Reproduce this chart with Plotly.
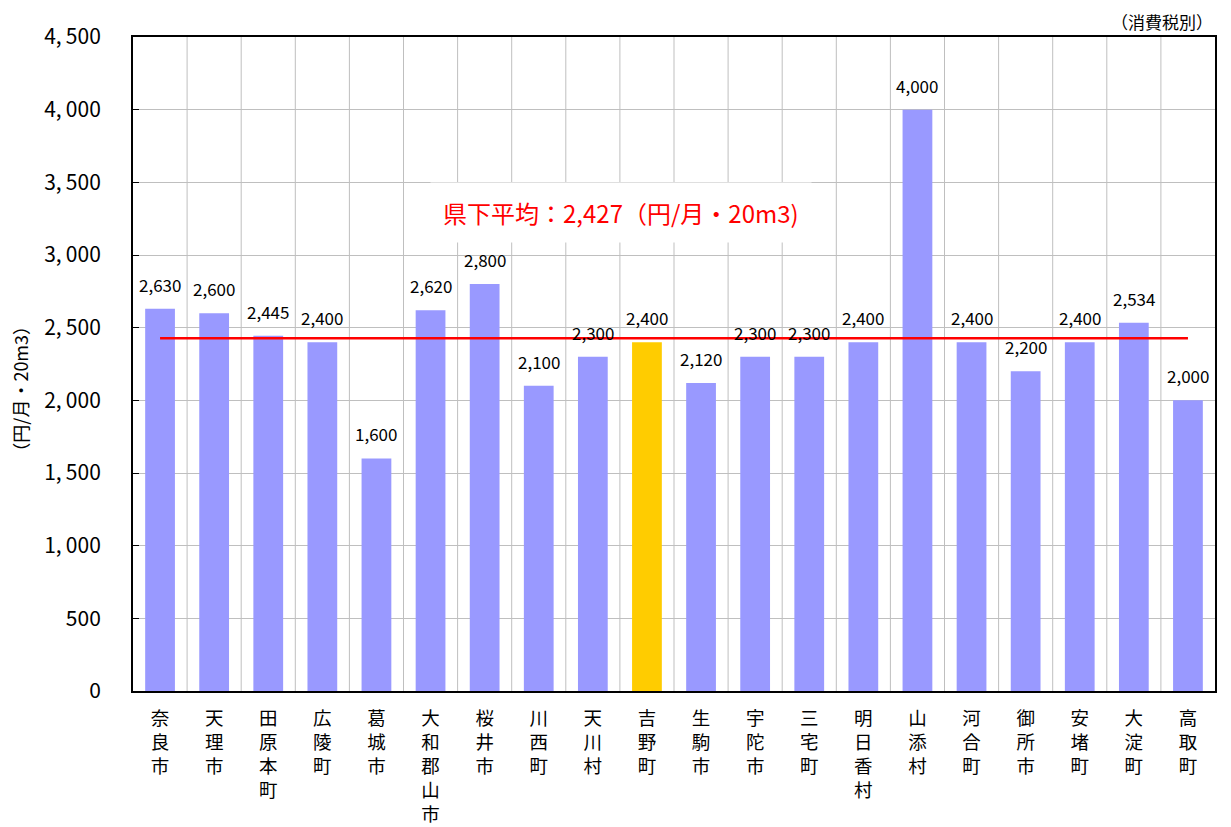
import plotly.graph_objects as go

categories = ["奈良市", "天理市", "田原本町", "広陵町", "葛城市", "大和郡山市", "桜井市", "川西町", "天川村", "吉野町",
              "生駒市", "宇陀市", "三宅町", "明日香村", "山添村", "河合町", "御所市", "安堵町", "大淀町", "高取町"]
values = [2630, 2600, 2445, 2400, 1600, 2620, 2800, 2100, 2300, 2400,
          2120, 2300, 2300, 2400, 4000, 2400, 2200, 2400, 2534, 2000]
highlight = "吉野町"
average = 2427
y_ticks = [0, 500, 1000, 1500, 2000, 2500, 3000, 3500, 4000, 4500]

FONT = "Noto Sans CJK JP, sans-serif"
labels = ["<br>".join(list(c)) for c in categories]
colors = ["#FFCC00" if c == highlight else "#9999FF" for c in categories]

fig = go.Figure()
fig.add_trace(go.Bar(
    x=labels, y=values, marker=dict(color=colors, line=dict(width=0)),
    width=0.55, showlegend=False, cliponaxis=False,
))
fig.add_trace(go.Scatter(
    x=labels, y=[average] * len(labels), mode="lines",
    line=dict(color="#FF0000", width=2.5), showlegend=False, hoverinfo="skip",
))

# value labels above bars
for lab, v in zip(labels, values):
    fig.add_annotation(
        x=lab, y=v, xref="x", yref="y", yanchor="bottom", yshift=10,
        text=f"{v:,}", showarrow=False,
        font=dict(family=FONT, size=17, color="black"),
    )

fig.add_annotation(
    x=0.451, y=3290, xref="paper", yref="y",
    text=f"県下平均：{average:,}（円/月・20m3)",
    showarrow=False, font=dict(family=FONT, size=24, color="#FF0000"),
    bgcolor="white", borderpad=12,
)
fig.add_annotation(
    x=1.0, y=1.0, xref="paper", yref="paper", xanchor="right", yanchor="bottom",
    text="（消費税別）", showarrow=False, yshift=1,
    font=dict(family=FONT, size=17, color="black"),
)
fig.add_annotation(
    x=-0.104, y=0.463, xref="paper", yref="paper", xanchor="center", yanchor="middle",
    text="（円/月・20m3）", showarrow=False, textangle=-90,
    font=dict(family=FONT, size=18, color="black"),
)

# figure sized to sit inside the page's default 8px body margin
fig.update_layout(
    width=1223, height=819,
    margin=dict(l=125, r=16, t=29, b=136),
    plot_bgcolor="white", paper_bgcolor="white",
    bargap=0.45,
    font=dict(family=FONT, size=16, color="black"),
)
fig.update_xaxes(
    showgrid=False, showline=True, linecolor="black", linewidth=2,
    mirror=True, ticks="", tickangle=0, automargin=False,
    tickfont=dict(family=FONT, size=18.5), ticklabelstandoff=10,
)
# vertical separators between categories
for i in range(1, len(categories)):
    fig.add_vline(x=i - 0.5, line=dict(color="#BFBFBF", width=1), layer="below")

fig.update_yaxes(
    range=[0, 4500], tickvals=y_ticks, ticktext=[f"{t:,}".replace(",", ",\u2009") for t in y_ticks],
    showgrid=True, gridcolor="#BFBFBF", gridwidth=1,
    showline=True, linecolor="black", linewidth=2, mirror=True,
    ticks="inside", ticklen=6, tickcolor="black", automargin=False,
    tickfont=dict(family=FONT, size=21), ticklabelstandoff=26,
    zeroline=False,
)

fig.write_html("out.html")
